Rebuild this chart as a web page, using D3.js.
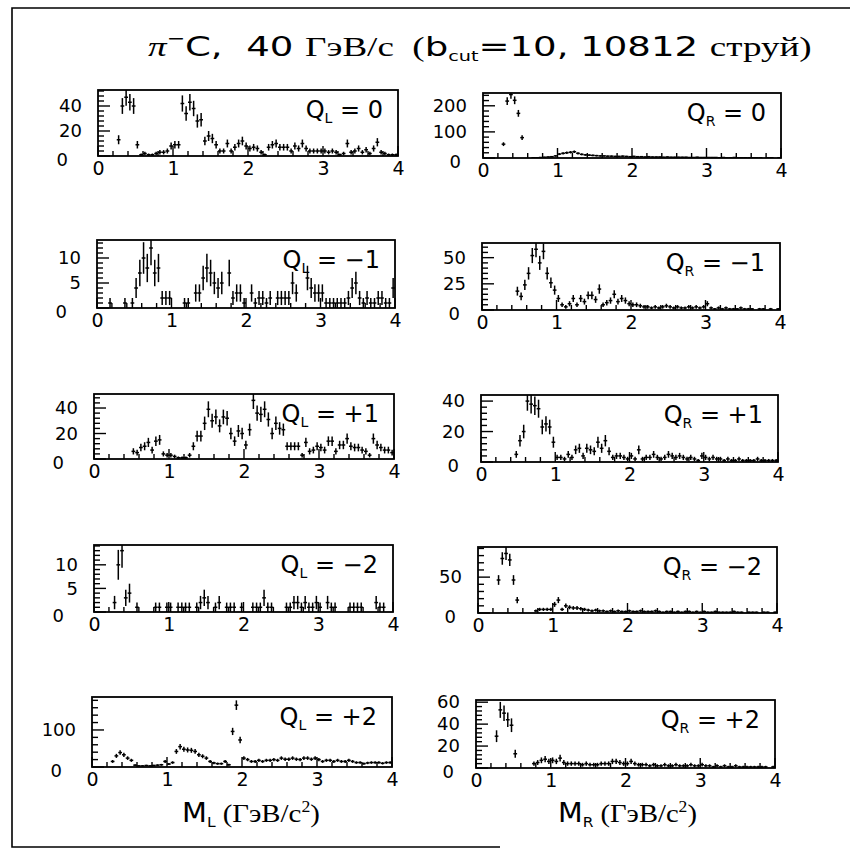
<!DOCTYPE html>
<html>
<head>
<meta charset="utf-8">
<title>pi- C, 40 GeV/c: M_L, M_R by charge</title>
<script src="https://cdn.jsdelivr.net/npm/d3@7"></script>
<style>
    body { margin: 0; background: #fff; }
    svg { display: block; }
    .frame { fill: none; stroke: #000; stroke-width: 1.8; }
    .bar { stroke: #000; stroke-width: 1.5; }
    .tk { stroke: #000; stroke-width: 1.4; }
    .axis text { font-family: "DejaVu Sans", sans-serif; fill: #000; }
    .sans { font-family: "DejaVu Sans", sans-serif; }
    .serif { font-family: "Liberation Serif", serif; }
</style>
</head>
<body>
<script>
// 80 bins of 0.05 GeV/c^2 from 0 to 4, counts
var binWidth = 0.05;
var xTicks = [0, 1, 2, 3, 4];

var qL0 = [0,0,0,0,0,13,40,47,43,40, 9,1,2,1,1,2,3,3,4,8, 9,9,42,34,43,38,28,29,12,16,
    14,9,4,4,10,4,7,10,12,8, 6,7,6,3,1,7,9,10,7,7, 7,4,8,6,10,6,4,4,4,4,
    4,3,4,3,1,2,10,3,4,6, 3,5,2,6,11,3,2,1,1,1];
var qR0 = [0,0,0,0,0,53,218,243,221,171, 78,0,0,1,1,2,3,4,5,8, 15,18,20,22,24,18,14,12,11,10,
    9,8,8,7,7,6,6,7,6,5, 6,5,5,4,5,4,4,4,3,4, 3,3,3,3,3,2,2,3,2,2,
    2,2,2,1,2,1,1,2,1,1, 1,1,1,1,1,0,1,1,0,1];
var qLm1 = [0,0,0,1,0,0,0,1,0,1, 4,7,10,8,12,7,8,2,2,2, 0,0,0,1,1,0,3,3,6,8,
    7,5,4,5,0,7,2,3,3,1, 0,3,1,2,2,1,2,0,2,2, 2,2,5,3,0,0,6,4,3,3,
    3,1,1,1,1,1,1,2,4,5, 2,1,2,1,1,2,2,1,1,4];
var qRm1 = [0,0,0,0,0,0,0,0,0,18, 13,24,35,52,58,45,56,35,26,19, 11,5,3,6,11,5,11,8,14,14,
    10,20,5,7,9,15,8,11,9,6, 5,5,4,3,3,2,3,2,3,4, 3,2,3,2,2,3,2,3,2,3,
    6,2,1,2,1,2,1,1,1,2, 1,1,1,0,1,1,0,1,0,1];
var qLp1 = [0,0,0,0,0,0,0,0,0,0, 6,5,9,10,13,7,14,15,4,3, 3,2,1,1,1,3,10,18,18,28,
    39,30,33,26,33,32,20,14,22,20, 11,23,46,36,35,39,31,20,28,24, 23,10,10,10,10,3,13,6,7,10,
    9,7,14,14,6,11,11,16,10,9, 9,7,6,3,16,11,9,7,7,5];
var qRp1 = [0,0,0,0,0,0,0,0,0,5, 14,20,40,38,37,35,23,25,23,13, 3,3,2,5,3,8,9,4,9,8,
    7,13,9,14,7,3,4,4,3,2, 4,2,8,2,3,3,5,3,2,3, 5,4,3,4,3,2,3,2,1,4,
    3,2,3,2,2,1,2,1,1,2, 1,1,1,1,2,1,1,1,1,1];
var qLm2 = [0,0,0,0,0,2,10,13,3,4, 0,1,0,0,0,0,1,1,0,1, 1,0,1,1,1,1,0,1,2,3,
    2,0,1,2,0,1,1,1,0,1, 0,0,1,1,1,3,1,1,0,0, 0,1,1,2,2,1,2,1,1,2,
    1,0,2,1,1,0,0,0,1,1, 1,1,0,0,0,2,1,1,0,0];
var qRm2 = [0,0,0,0,0,46,76,83,74,46, 18,0,0,0,0,3,5,5,5,5, 12,18,5,10,8,7,7,6,5,4,
    3,4,3,3,2,3,2,3,2,2, 3,2,2,3,2,2,2,3,2,1, 2,2,1,2,1,2,2,1,2,1,
    2,1,1,2,1,1,1,1,2,1, 1,0,1,1,1,0,1,1,0,1];
var qLp2 = [0,0,0,0,0,15,30,39,33,24, 18,5,3,3,4,3,4,5,6,15, 8,12,42,55,48,46,45,42,33,29,
    24,15,11,9,9,15,6,96,167,73, 24,20,15,15,18,15,18,18,20,18, 24,21,21,24,21,20,24,24,21,24,
    20,15,18,18,15,18,15,15,18,15, 12,12,9,11,12,12,12,10,12,12];
var qRp2 = [0,0,0,0,0,29,53,50,44,39, 13,0,0,0,0,4,5,7,8,6, 7,6,9,5,4,4,4,4,3,4,
    3,3,3,4,4,4,6,6,5,4, 4,6,4,3,3,3,2,3,2,2, 3,2,2,3,2,2,2,3,2,2,
    3,2,2,1,2,1,2,1,1,2, 1,1,1,1,1,1,1,1,0,1];

// axis tops (auto-scaled maxima) and labelled y ticks
var yTops = [52.8, 249, 13.6, 64, 51, 44, 14.2, 92, 189, 62];
var yTickSets = [[0,20,40], [0,100,200], [0,5,10], [0,25,50], [0,20,40],
    [0,20,40], [0,5,10], [0,50], [0,100], [0,20,40,60]];
var charges = ["0", "0", "\u22121", "\u22121", "+1", "+1", "\u22122", "\u22122", "+2", "+2"];
var sides = ["L", "R", "L", "R", "L", "R", "L", "R", "L", "R"];
var series = [qL0, qR0, qLm1, qRm1, qLp1, qRp1, qLm2, qRm2, qLp2, qRp2];

// frame boxes [x0, y0, x1, y1] as they sit on the scanned page
var boxes = [
    [98, 90, 398, 156], [483, 93, 781, 158],
    [97, 240, 395, 308], [482, 243, 780, 310],
    [94, 394, 394, 459], [481, 395, 778, 462],
    [94, 545, 393, 612], [478, 547, 777, 613],
    [92, 697, 392, 767], [476, 700, 775, 768]
];

var svg = d3.select("body").append("svg")
    .attr("width", 857)
    .attr("height", 851);

// page border (left, top, bottom)
svg.append("path")
    .attr("d", "M850,8 L12,8 L12,847 L500,847")
    .attr("fill", "none")
    .attr("stroke", "#000")
    .attr("stroke-width", 1.6);

// squeeze/stretch a text group horizontally so it spans [x0, x1]
function fitWidth(g, x0, x1, y) {
    var w = g.node().getBBox().width;
    g.attr("transform", "translate(" + x0 + "," + y + ") scale(" + ((x1 - x0) / w) + ",1)");
}

// title
var titleG = svg.append("g");
var title = titleG.append("text")
    .attr("font-size", 27)
    .style("white-space", "pre");
title.append("tspan").attr("class", "serif").attr("font-style", "italic").text("\u03c0");
title.append("tspan").attr("class", "sans").attr("font-size", 16).attr("dy", -12).text("\u2212");
title.append("tspan").attr("class", "sans").attr("dy", 12).text("C,  40 ");
title.append("tspan").attr("class", "serif").text("\u0413\u044dB/c  (");
title.append("tspan").attr("class", "sans").text("b");
title.append("tspan").attr("class", "sans").attr("font-size", 14).attr("dy", 5).text("cut");
title.append("tspan").attr("class", "sans").attr("dy", -5).text("=10, 10812 ");
title.append("tspan").attr("class", "serif").text("\u0441\u0442\u0440\u0443\u0439)");
fitWidth(titleG, 148, 812, 56);

series.forEach(function (data, k) {
    renderPanel(data, k);
});

function renderPanel(data, k) {
    var b = boxes[k];
    var top = yTops[k];
    var ticks = yTickSets[k];
    var major = ticks[1] - ticks[0];

    var x = d3.scaleLinear().domain([0, 4]).range([b[0], b[2]]);
    var y = d3.scaleLinear().domain([0, top]).range([b[3], b[1]]);

    var g = svg.append("g");

    g.append("clipPath")
        .attr("id", "clip" + k)
        .append("rect")
        .attr("x", b[0]).attr("y", b[1])
        .attr("width", b[2] - b[0]).attr("height", b[3] - b[1]);

    // inward tick marks: x every 0.2 (longer at integers), y at fifths of a major step
    var xt = d3.range(0, 4.001, 0.2).map(function (v) {
        return {v: v, len: Math.abs(v - Math.round(v)) < 1e-6 ? 10 : 5};
    });
    g.selectAll("line.xt")
        .data(xt)
        .enter().append("line")
        .attr("class", "tk xt")
        .attr("x1", function (d) { return x(d.v); })
        .attr("x2", function (d) { return x(d.v); })
        .attr("y1", b[3])
        .attr("y2", function (d) { return b[3] - d.len; });

    var yt = d3.range(0, top, major / 5).map(function (v) {
        var isMajor = Math.abs(v / major - Math.round(v / major)) < 1e-6;
        return {v: v, len: isMajor ? 12 : 6};
    });
    g.selectAll("line.yt")
        .data(yt)
        .enter().append("line")
        .attr("class", "tk yt")
        .attr("x1", b[0])
        .attr("x2", function (d) { return b[0] + d.len; })
        .attr("y1", function (d) { return y(d.v); })
        .attr("y2", function (d) { return y(d.v); });

    // tick labels
    g.append("g")
        .attr("class", "axis")
        .attr("transform", "translate(0," + b[3] + ")")
        .call(d3.axisBottom(x).tickValues(xTicks).tickSize(0).tickPadding(6).tickFormat(d3.format("d")))
        .call(function (a) {
            a.select(".domain").remove();
            a.selectAll("text").attr("font-size", 19);
        });

    var ya = g.append("g")
        .attr("class", "axis")
        .attr("transform", "translate(" + b[0] + ",0)")
        .call(d3.axisLeft(y).tickValues(ticks).tickSize(0).tickPadding(16).tickFormat(d3.format("d")))
        .call(function (a) {
            a.select(".domain").remove();
            a.selectAll("text").attr("font-size", 18);
        });

    ya.selectAll(".tick text")
        .filter(function (d) { return d === 0; })
        .attr("dx", k % 2 === 0 ? -14 : -6)
        .attr("dy", "0.5em");

    // error-bar crosses
    var bins = data.map(function (n, i) {
        return {lo: i * binWidth, hi: (i + 1) * binWidth, n: n};
    }).filter(function (d) { return d.n > 0; });

    var body = g.append("g").attr("clip-path", "url(#clip" + k + ")");

    body.selectAll("line.h")
        .data(bins)
        .enter().append("line")
        .attr("class", "bar h")
        .attr("x1", function (d) { return x(d.lo); })
        .attr("x2", function (d) { return x(d.hi); })
        .attr("y1", function (d) { return y(d.n); })
        .attr("y2", function (d) { return y(d.n); });

    body.selectAll("line.v")
        .data(bins)
        .enter().append("line")
        .attr("class", "bar v")
        .attr("x1", function (d) { return x((d.lo + d.hi) / 2); })
        .attr("x2", function (d) { return x((d.lo + d.hi) / 2); })
        .attr("y1", function (d) { return y(Math.max(0, d.n - Math.sqrt(d.n))); })
        .attr("y2", function (d) { return y(d.n + Math.sqrt(d.n)); });

    g.append("rect")
        .attr("class", "frame")
        .attr("x", b[0]).attr("y", b[1])
        .attr("width", b[2] - b[0]).attr("height", b[3] - b[1]);

    // Q label
    var q = g.append("text")
        .attr("class", "sans")
        .attr("x", b[2] - 15)
        .attr("y", b[1] + 28)
        .attr("text-anchor", "end")
        .attr("font-size", 24)
        .style("white-space", "pre");
    q.append("tspan").text("Q");
    q.append("tspan").attr("font-size", 14).attr("dy", 5).text(sides[k]);
    q.append("tspan").attr("dy", -5).text(" = " + charges[k]);
}

// x axis titles
[["L", 182, 320], ["R", 558, 697]].forEach(function (t) {
    var labG = svg.append("g");
    var lab = labG.append("text")
        .attr("font-size", 26)
        .style("white-space", "pre");
    lab.append("tspan").attr("class", "sans").text("M");
    lab.append("tspan").attr("class", "sans").attr("font-size", 14).attr("dy", 5).text(t[0]);
    lab.append("tspan").attr("class", "serif").attr("dy", -5).text(" (\u0413\u044dB/c");
    lab.append("tspan").attr("class", "serif").attr("font-size", 16).attr("dy", -10).text("2");
    lab.append("tspan").attr("class", "serif").attr("dy", 10).text(")");
    fitWidth(labG, t[1], t[2], 822);
});
</script>
</body>
</html>
